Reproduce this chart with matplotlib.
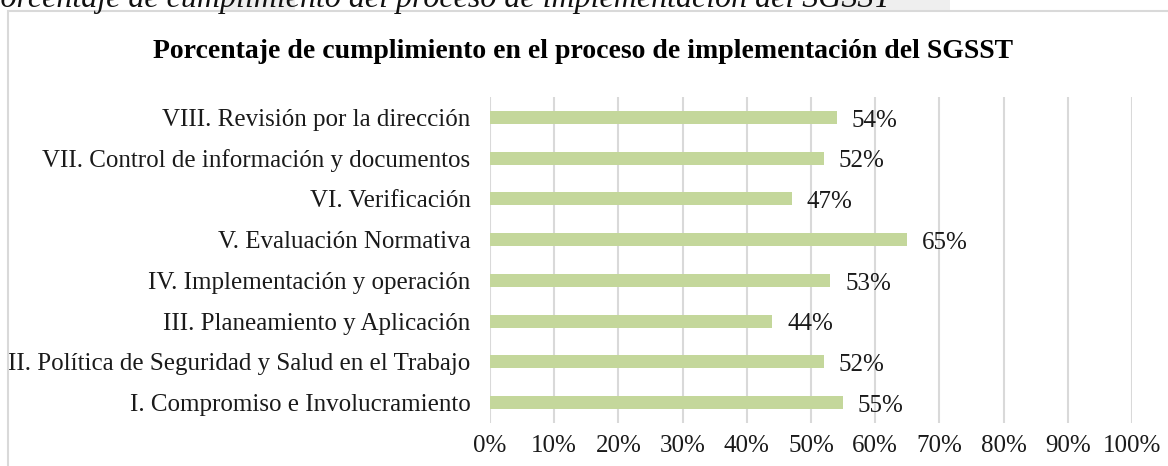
import matplotlib.pyplot as plt
from matplotlib.patches import Rectangle
from matplotlib.ticker import PercentFormatter

# Data (bottom to top, as drawn)
categories = [
    "I. Compromiso e Involucramiento",
    "II. Política de Seguridad y Salud en el Trabajo",
    "III. Planeamiento y Aplicación",
    "IV. Implementación y operación",
    "V. Evaluación Normativa",
    "VI. Verificación",
    "VII. Control de información y documentos",
    "VIII. Revisión por la dirección",
]
values = [55, 52, 44, 53, 65, 47, 52, 54]
xticks = list(range(0, 101, 10))

plt.rcParams['font.family'] = ['Liberation Serif', 'DejaVu Serif']

fig = plt.figure(figsize=(11.68, 4.66), dpi=100)
ax = fig.add_axes([490 / 1168, 1 - 423 / 466, (1132 - 490) / 1168, (423 - 97) / 466])

# faint grey shading behind the page caption
for x0, x1 in [(225, 295), (835, 950)]:
    fig.patches.append(Rectangle((x0 / 1168, 1 - 10 / 466), (x1 - x0) / 1168, 10 / 466,
                                 transform=fig.transFigure, color='#efefef', linewidth=0))

# caption cut at the top of the page
fig.text(-19 / 1168, 1 - 7.5 / 466,
         "Porcentaje de cumplimiento del proceso de implementación del SGSST",
         fontsize=23, style='italic', ha='left', va='baseline', color='#111111')

# chart frame
fig.patches.append(Rectangle((8 / 1168, -0.1), 1.2, 1.1 - 11 / 466, transform=fig.transFigure,
                             fill=False, edgecolor='#d9d9d9', linewidth=1.5))

ax.barh(range(len(categories)), values, height=0.32, color='#c4d79b', zorder=2)
for i, v in enumerate(values):
    ax.text(v + 2.3, i - 0.08, f"{v}%", ha='left', va='center', fontsize=18, color='#1a1a1a')

ax.set_xlim(0, 100)
ax.set_ylim(-0.5, len(categories) - 0.5)
ax.set_xticks(xticks)
ax.xaxis.set_major_formatter(PercentFormatter(decimals=0))
ax.set_yticks(range(len(categories)))
ax.set_yticklabels(categories)
ax.tick_params(axis='both', length=0, labelsize=18, colors='#1a1a1a')
ax.tick_params(axis='y', pad=14)
ax.tick_params(axis='x', pad=9)
ax.grid(axis='x', color='#d9d9d9', linewidth=1.5, zorder=0)
for s in ax.spines.values():
    s.set_visible(False)

fig.text(583 / 1168, 1 - 52 / 466, "Porcentaje de cumplimiento en el proceso de implementación del SGSST",
         fontsize=20, fontweight='bold', ha='center', va='center')

fig.savefig('out.png', dpi=100)
